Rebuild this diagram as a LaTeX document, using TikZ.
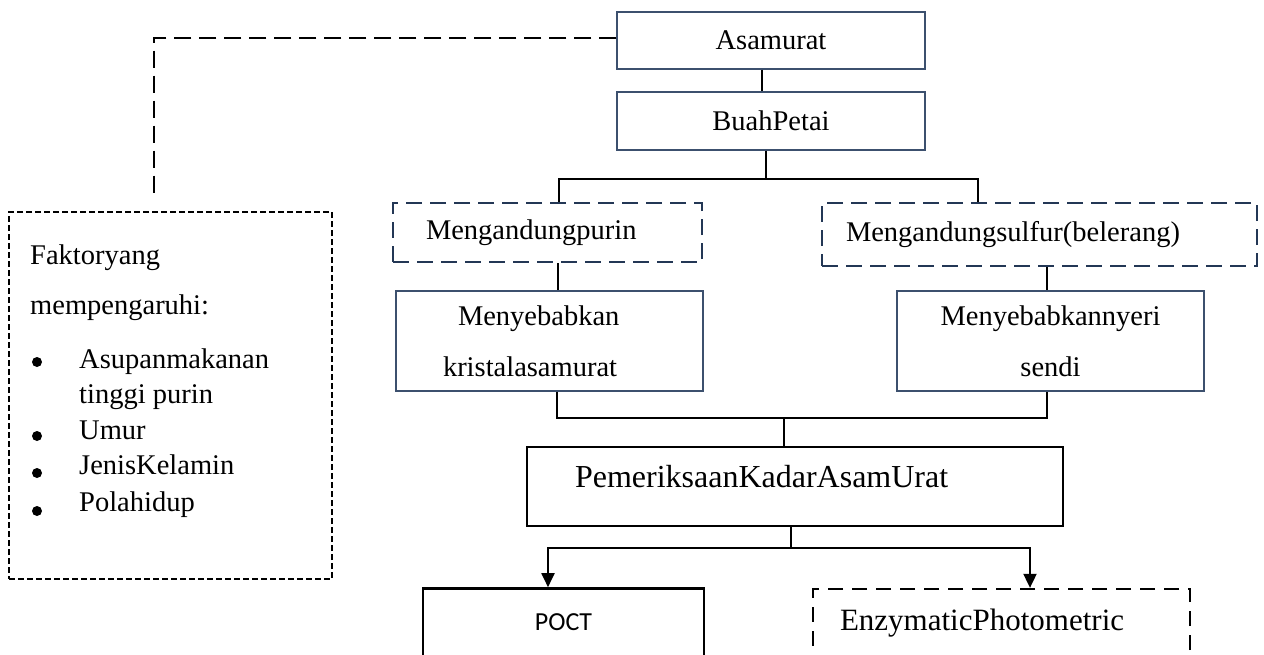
\documentclass[tikz,border=0pt]{standalone}
\usepackage{fontspec}
\setmainfont{Liberation Serif}
\newfontfamily\calibri{Carlito}
\usetikzlibrary{arrows.meta}
\definecolor{navy}{RGB}{35,55,85}
\definecolor{boxline}{RGB}{60,80,110}
\begin{document}
\begin{tikzpicture}[x=1pt,y=-1pt,
  txt/.style={font=\fontsize{28.5}{34}\selectfont},
  thinbox/.style={draw=boxline, line width=1.1pt, inner sep=0pt, txt},
  navybox/.style={draw=navy, line width=2.3pt, dash pattern=on 16pt off 8pt, inner ysep=0pt, txt},
  boldbox/.style={draw=black, line width=2.6pt, inner ysep=0pt},
  enzbox/.style={draw=black, line width=2.3pt, dash pattern=on 15pt off 9pt, inner ysep=0pt},
  factbox/.style={draw=black, line width=2.2pt, dash pattern=on 6pt off 3pt, inner sep=0pt},
  conn/.style={draw=black, line width=1.9pt},
  arr/.style={conn, -{Triangle[width=13pt,length=14pt]}},
  topdash/.style={draw=black, line width=2.8pt, dash pattern=on 17pt off 8pt},
  ftxt/.style={txt, anchor=base west, inner sep=0pt}
]
\useasboundingbox (0,0) rectangle (1264,654);

% top boxes
\node[thinbox, minimum width=308pt, minimum height=57pt] (asam) at (771,40.5) {Asamurat};
\node[thinbox, minimum width=308pt, minimum height=58pt] (buah) at (771,121) {BuahPetai};

% second level (dashed navy)
\node[navybox, inner xsep=33pt, text width=243pt, align=left, minimum height=59pt] (purin) at (547.5,232.5) {Mengandungpurin};
\node[navybox, inner xsep=24pt, text width=387pt, align=left, minimum height=63pt] (sulfur) at (1039.5,234.5) {Mengandungsulfur(belerang)};

% third level
\node[thinbox, font=\fontsize{28.5}{51}\selectfont, inner xsep=47pt, text width=213pt, align=left, minimum height=100pt] (meny) at (549.5,341) {\hspace*{15pt}Menyebabkan\\kristalasamurat};
\node[thinbox, font=\fontsize{28.5}{51}\selectfont, text width=307pt, align=center, minimum height=100pt] (nyeri) at (1050.5,341) {Menyebabkannyeri\\sendi};

% examination
\node[boldbox, font=\fontsize{32}{36}\selectfont, inner xsep=48pt, text width=440pt, align=left, text height=20pt, text depth=19pt, minimum height=79pt] (pkau) at (795,486.5) {PemeriksaanKadarAsamUrat};

% bottom boxes (cut by page edge)
\node[boldbox, font=\calibri\fontsize{26}{30}\selectfont, minimum width=281pt, minimum height=68pt] (poct) at (563.5,622.5) {POCT};
\node[enzbox, font=\fontsize{31}{36}\selectfont, inner xsep=27pt, text width=323pt, align=left, minimum height=68pt] (enz) at (1001.5,623) {EnzymaticPhotometric};

% factor box
\node[factbox, minimum width=323pt, minimum height=367pt] (fakt) at (170.5,395.5) {};
\node[ftxt] (f1) at (30,264.6) {Faktoryang};
\node[ftxt] (f2) at (30,314.6) {mempengaruhi:};
\node[ftxt] (f3) at (79,368.6) {Asupanmakanan};
\node[ftxt] (f4) at (79,403.6) {tinggi purin};
\node[ftxt] (f5) at (79,439.6) {Umur};
\node[ftxt] (f6) at (79,474.6) {JenisKelamin};
\node[ftxt] (f7) at (79,511.6) {Polahidup};
\fill (37,362) circle (5pt);
\fill (37,436) circle (5pt);
\fill (37,473) circle (5pt);
\fill (37,511) circle (5pt);

% junction coordinates
\coordinate (j1) at (766,179);
\coordinate (j2) at (784,418);
\coordinate (j3) at (791,548);
\coordinate (fk) at (154,197);

% connectors
\draw[topdash] ([yshift=2.5pt]asam.west) -| (fk);
\draw[conn] ([xshift=-9pt]asam.south) -- ([xshift=-9pt]buah.north);
\draw[conn] ([xshift=-5pt]buah.south) -- (j1);
\draw[conn] ([xshift=11.5pt]purin.north) |- (j1) -| ([xshift=-61.5pt]sulfur.north);
\draw[conn] ([xshift=10.5pt]purin.south) -- ([xshift=10.5pt]purin.south |- meny.north);
\draw[conn] ([xshift=7.5pt]sulfur.south) -- ([xshift=7.5pt]sulfur.south |- nyeri.north);
\draw[conn] ([xshift=7.5pt]meny.south) |- (j2) -| ([xshift=-3.5pt]nyeri.south);
\draw[conn] (j2) -- (j2 |- pkau.north);
\draw[conn] (j3 |- pkau.south) -- (j3);
\draw[arr] (j3) -| ([xshift=-15.5pt]poct.north);
\draw[arr] (j3) -| ([xshift=28.5pt]enz.north);
\end{tikzpicture}
\end{document}
